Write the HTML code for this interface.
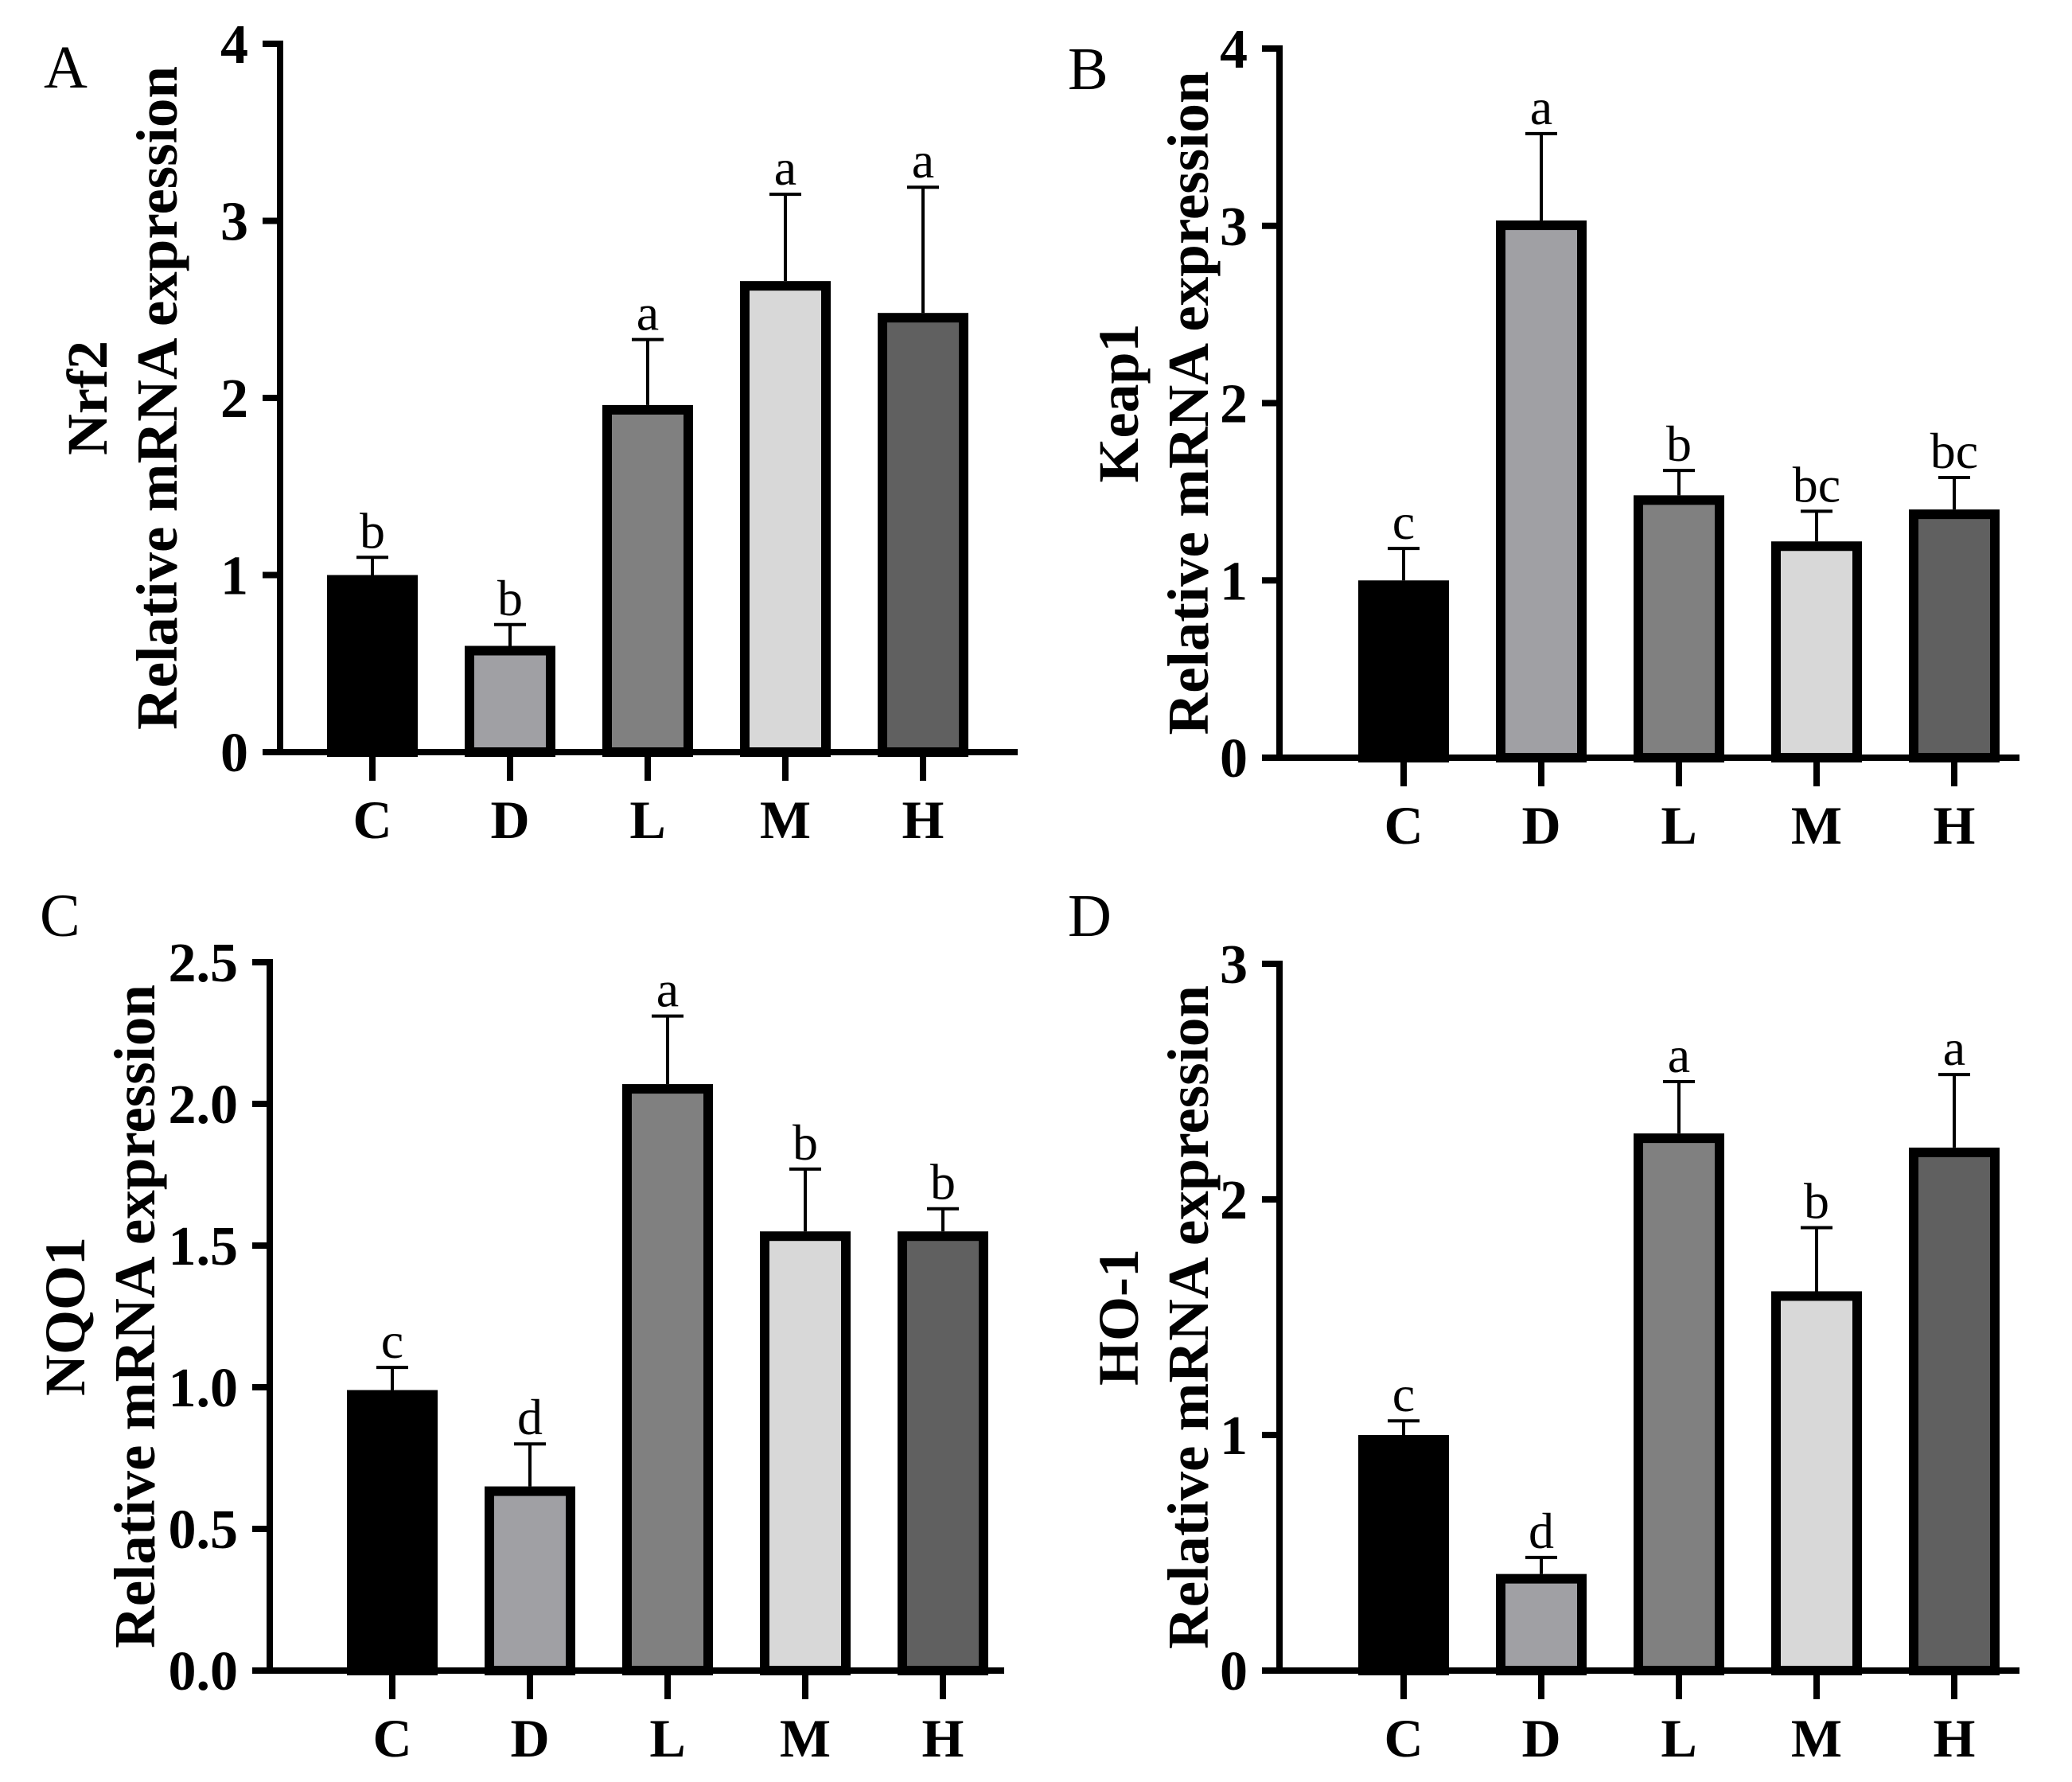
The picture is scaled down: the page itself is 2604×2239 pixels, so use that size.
<!DOCTYPE html>
<html><head><meta charset="utf-8"><style>
html,body{margin:0;padding:0;background:#fff;}
svg{display:block;font-family:"Liberation Serif",serif;}
</style></head><body>
<svg id="fig" width="2604" height="2239" viewBox="0 0 2604 2239"></svg>
<script>
const categories = ["C","D","L","M","H"];
const nrf2Values = [1.0,0.6,1.96,2.66,2.48];
const nrf2Err = [1.1,0.72,2.33,3.15,3.19];
const nrf2Letters = ["b","b","a","a","a"];
const keap1Values = [1.0,3.03,1.48,1.22,1.40];
const keap1Err = [1.18,3.52,1.62,1.39,1.58];
const keap1Letters = ["c","a","b","bc","bc"];
const nqo1Values = [0.99,0.65,2.07,1.55,1.55];
const nqo1Err = [1.07,0.80,2.31,1.77,1.63];
const nqo1Letters = ["c","d","a","b","b"];
const ho1Values = [1.0,0.41,2.28,1.61,2.22];
const ho1Err = [1.06,0.48,2.50,1.88,2.53];
const ho1Letters = ["c","d","a","b","a"];
const ticksA = ["0","1","2","3","4"];
const ticksB = ["0","1","2","3","4"];
const ticksC = ["0.0","0.5","1.0","1.5","2.0","2.5"];
const ticksD = ["0","1","2","3"];
const fills = ["#000000","#a0a0a4","#808080","#d8d8d8","#606060"];

const NS="http://www.w3.org/2000/svg";
const svg=document.getElementById('fig');
function mk(tag,attrs,parent,text){const e=document.createElementNS(NS,tag);for(const k in attrs)e.setAttribute(k,attrs[k]);if(text!==undefined)e.textContent=text;(parent||svg).appendChild(e);return e;}

function panel(p){
  const g=mk('g',{});
  
  
  const ymax=parseFloat(p.ticks[p.ticks.length-1]);
  const y=v=>p.zero-(v/ymax)*(p.zero-p.top);
  const x=i=>p.x0+i*p.step;
  const L=mk('text',{x:p.lx,y:p.ly,'font-size':76},g,p.id);
  
  
  p.vals.forEach((v,i)=>{
    const cx=x(i);
    const ey=y(p.err[i]);
    const ln=mk('line',{x1:cx,x2:cx,y1:y(v),y2:ey,stroke:'#000','stroke-width':4},g);
    
    
    const cap=mk('line',{x1:cx-20,x2:cx+20,y1:ey,y2:ey,stroke:'#000','stroke-width':4},g);
    
    
    const r=mk('rect',{x:cx-51,y:y(v)+6,width:102,height:p.zero-y(v)-6,fill:fills[i],stroke:'#000','stroke-width':12},g);
    
    
    const s=mk('text',{x:cx,y:ey-12,'font-size':64,'text-anchor':'middle'},g,p.letters[i]);
    
    
    const t=mk('line',{x1:cx,x2:cx,y1:p.zero,y2:p.zero+36,stroke:'#000','stroke-width':8},g);
    
    
    const xl=mk('text',{x:cx,y:p.zero+108,'font-size':68,'font-weight':'bold','text-anchor':'middle'},g,categories[i]);
    
    
  });
  const ya=mk('line',{x1:p.ax,x2:p.ax,y1:p.top-4,y2:p.zero+4,stroke:'#000','stroke-width':8},g);
  
  
  const xa=mk('line',{x1:p.ax-4,x2:p.xend,y1:p.zero,y2:p.zero,stroke:'#000','stroke-width':8},g);
  
  
  p.ticks.forEach(tk=>{
    const ty=y(parseFloat(tk));
    const tl=mk('line',{x1:p.ax-22,x2:p.ax,y1:ty,y2:ty,stroke:'#000','stroke-width':8},g);
    
    
    const tt=mk('text',{x:p.ax-40,y:ty+24,'font-size':70,'font-weight':'bold','text-anchor':'end'},g,tk);
    
    
  });
  const cy=(p.top+p.zero)/2;
  const t1=mk('text',{x:0,y:0,'font-size':72,'font-weight':'bold','text-anchor':'middle',transform:`translate(${p.t1x},${cy}) rotate(-90)`},g,p.gene);
  
  
  const t2=mk('text',{x:0,y:0,'font-size':73,'font-weight':'bold','text-anchor':'middle',transform:`translate(${p.t2x},${cy}) rotate(-90)`},g,'Relative mRNA expression');
  
  
}
panel({id:'A',gene:'Nrf2',vals:nrf2Values,err:nrf2Err,letters:nrf2Letters,ticks:ticksA,ax:352,top:55,zero:945,x0:468,step:173,xend:1279,lx:55,ly:110,t1x:134,t2x:222});
panel({id:'B',gene:'Keap1',vals:keap1Values,err:keap1Err,letters:keap1Letters,ticks:ticksB,ax:1608,top:61,zero:952,x0:1764,step:173,xend:2538,lx:1342,ly:112,t1x:1430,t2x:1518});
panel({id:'C',gene:'NQO1',vals:nqo1Values,err:nqo1Err,letters:nqo1Letters,ticks:ticksC,ax:339,top:1209,zero:2099,x0:493,step:173,xend:1262,lx:50,ly:1176,t1x:106,t2x:194});
panel({id:'D',gene:'HO-1',vals:ho1Values,err:ho1Err,letters:ho1Letters,ticks:ticksD,ax:1608,top:1211,zero:2099,x0:1764,step:173,xend:2538,lx:1342,ly:1176,t1x:1430,t2x:1518});
</script>
</body></html>
